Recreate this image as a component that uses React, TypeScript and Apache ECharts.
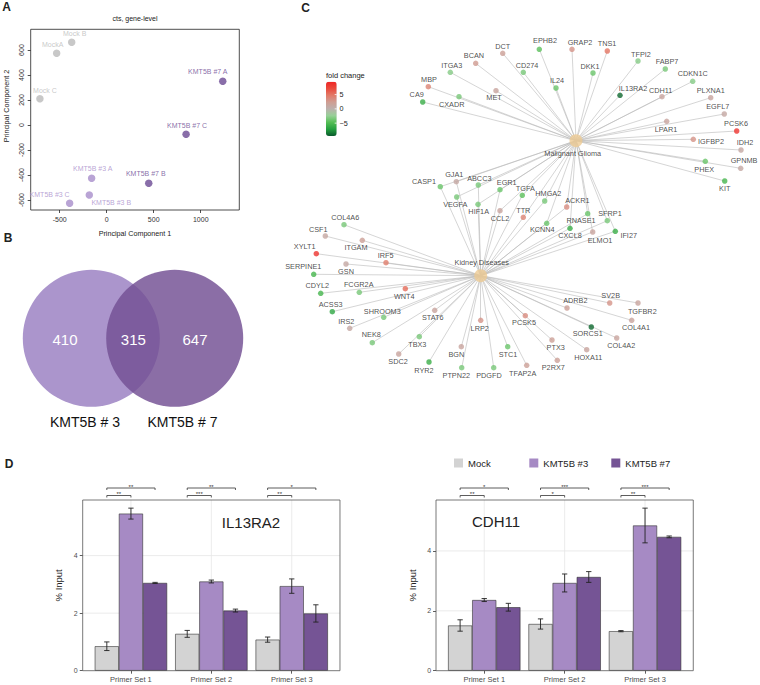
import React, { useEffect, useRef } from "react";
import * as echarts from "echarts";

// ---------- Panel A: PCA ----------
const pcaSamples = ["MockA", "Mock B", "Mock C", "KMT5B #3 A", "KMT5B #3 B", "KMT5B #3 C", "KMT5B #7 A", "KMT5B #7 B", "KMT5B #7 C"];
const pcaGroup = [0, 0, 0, 1, 1, 1, 2, 2, 2];
const pc1 = [-532, -372, -710, -160, -185, -394, 1234, 447, 844];
const pc2 = [574, 662, 210, -426, -560, -626, 350, -466, -74];
const pc1Ticks = [-500, 0, 500, 1000];
const pc2Ticks = [-600, -400, -200, 0, 200, 400, 600];

// ---------- Panel B: Venn ----------
const vennSets = ["KMT5B # 3", "KMT5B # 7"];
const vennCounts = [410, 315, 647]; // only #3, both, only #7

// ---------- Panel C: network ----------
const hubs = ["Malignant Glioma", "Kidney Diseases"];
const gliomaGenes = ["EPHB2", "GRAP2", "TNS1", "DCT", "BCAN", "TFPI2", "FABP7", "ITGA3", "CD274", "DKK1", "CDKN1C", "MBP", "IL24", "MET", "IL13RA2", "CDH11", "PLXNA1", "CA9", "CXADR", "EGFL7", "LPAR1", "PCSK6", "IGFBP2", "IDH2", "GPNMB", "PHEX", "KIT"];
const gliomaFC = [-4.5, 3, 5, 2, 2.5, -3, -3.5, -3, -3.5, -4, -3, 4, -4, 1.5, -9, 1.5, 1.5, -6, -3.5, 1, 1.5, 8.5, 3, 1, 1, -4, -5.5];
const sharedGenes = ["CASP1", "GJA1", "ABCC3", "EGR1", "TGFA", "HMGA2", "VEGFA", "HIF1A", "ACKR1", "CCL2", "TTR", "RNASE1", "SFRP1", "KCNN4", "CXCL8", "ELMO1", "IFI27"];
const sharedFC = [-4, 1, -3.5, -4, -4.5, -3.5, -3.5, -3.5, 3.5, 1.5, 4, -4, -3.5, -4, -6, 1.5, -6];
const kidneyGenes = ["COL4A6", "CSF1", "ITGAM", "XYLT1", "IRF5", "SERPINE1", "GSN", "CDYL2", "FCGR2A", "WNT4", "ACSS3", "SHROOM3", "IRS2", "STAT6", "NEK8", "TBX3", "LRP2", "SDC2", "BGN", "RYR2", "PTPN22", "PDGFD", "STC1", "TFAP2A", "PCSK5", "PTX3", "P2RX7", "ADRB2", "SV2B", "TGFBR2", "SORCS1", "COL4A1", "COL4A2", "HOXA11"];
const kidneyFC = [-3.5, 1, 2, 8.5, 4.5, -5.5, 1, -5.5, -3.5, 5.5, -6.5, -3.5, 1, 1.5, -3.5, -3.5, 3, 1.5, 1.5, -6, -3.5, -3.5, -4, 2, 3.5, 2, 2, 2, 3, 1.5, -9, 1.5, 1.5, 1.5];
const foldChangeTicks = [5, 0, -5];

// ---------- Panel D: ChIP bars ----------
const primerSets = ["Primer Set 1", "Primer Set 2", "Primer Set 3"];
const conditions = ["Mock", "KMT5B #3", "KMT5B #7"];
const il13ra2Mock = [0.85, 1.28, 1.08];
const il13ra2Kmt3 = [5.46, 3.1, 2.94];
const il13ra2Kmt7 = [3.05, 2.09, 1.99];
const il13ra2MockErr = [0.15, 0.12, 0.09];
const il13ra2Kmt3Err = [0.19, 0.05, 0.25];
const il13ra2Kmt7Err = [0.02, 0.05, 0.3];
const il13ra2SigVs3 = ["**", "***", "**"];
const il13ra2SigVs7 = ["**", "**", "*"];
const cdh11Mock = [1.51, 1.56, 1.32];
const cdh11Kmt3 = [2.36, 2.93, 4.85];
const cdh11Kmt7 = [2.12, 3.13, 4.47];
const cdh11MockErr = [0.19, 0.17, 0.02];
const cdh11Kmt3Err = [0.05, 0.3, 0.58];
const cdh11Kmt7Err = [0.13, 0.18, 0.03];
const cdh11SigVs3 = ["**", "*", "**"];
const cdh11SigVs7 = ["*", "***", "***"];
const percentTicks = [0, 2, 4];

// ---------- layout (positions of the hand-drawn network, in page pixels) ----------
// [nodeX, nodeY, labelX, labelY]
const networkLayout: Record<string, number[]> = {
  "Malignant Glioma": [576, 140.7, 572.7, 153.3],
  "Kidney Diseases": [480.7, 275.7, 481.7, 262.3],
  EPHB2: [539.3, 49.3, 545, 40], GRAP2: [572, 49.3, 580, 42], TNS1: [607.3, 51, 607, 43],
  DCT: [502.7, 53.3, 502.7, 46], BCAN: [475.7, 63.3, 474, 55.7], TFPI2: [638, 61, 641, 54],
  FABP7: [665.3, 69, 667, 61.7], ITGA3: [450.3, 72.3, 451.7, 65], CD274: [523.3, 72.3, 527, 65.7],
  DKK1: [593, 73, 590, 66], CDKN1C: [692.7, 81.3, 692.7, 73.3], MBP: [428.3, 86.7, 429, 79],
  IL24: [556, 88, 557, 80.3], MET: [496, 90.7, 494, 97.7], IL13RA2: [620, 95.3, 633, 88],
  CDH11: [662, 96.7, 660.7, 90], PLXNA1: [710.7, 97.7, 710.7, 90], CA9: [422.7, 102, 416.7, 94.7],
  CXADR: [459, 96.7, 451.7, 104.3], EGFL7: [724.3, 114, 717.7, 106.7], LPAR1: [666.7, 121.3, 666, 129],
  PCSK6: [736.7, 131, 736, 123], IGFBP2: [693.3, 139.3, 711, 141.3], IDH2: [741, 150, 745, 142.3],
  GPNMB: [740.7, 168.3, 744, 160.7], PHEX: [705.3, 161.3, 704.3, 169], KIT: [724.7, 181, 724.7, 188.7],
  CASP1: [440.3, 186.7, 424, 181.3], GJA1: [456.3, 181.7, 454.3, 174], ABCC3: [478.3, 185, 479.3, 178],
  EGR1: [500, 189.7, 506.7, 182.3], TGFA: [522.3, 195.3, 525.3, 188.7], HMGA2: [544.7, 201, 548.3, 193],
  VEGFA: [456.7, 197, 455.3, 204.7], HIF1A: [478, 204.3, 478.7, 211], ACKR1: [566.7, 207, 577.3, 200.3],
  CCL2: [500, 210.7, 500, 218.7], TTR: [523.3, 217.3, 523.3, 210], RNASE1: [587.7, 213.7, 581, 220],
  SFRP1: [607.3, 220.7, 610, 213], KCNN4: [546.7, 223.3, 542.3, 229.7], CXCL8: [570, 228.3, 570, 235.3],
  ELMO1: [592.7, 232, 600, 240], IFI27: [615.3, 231.3, 628.7, 235],
  COL4A6: [344, 224.7, 345.3, 217.3], CSF1: [325.3, 236, 318.3, 229.3], ITGAM: [362.3, 240.3, 356, 247.7],
  XYLT1: [316.3, 253.7, 304.7, 246.3], IRF5: [386, 262.7, 385.7, 255.7], SERPINE1: [313.7, 274.3, 303.3, 266],
  GSN: [346, 264, 346, 271.7], CDYL2: [320.7, 293.3, 317.3, 285], FCGR2A: [359.3, 292.3, 358.7, 284.7],
  WNT4: [405.3, 288.7, 404.3, 296.3], ACSS3: [332.3, 311.7, 330.7, 304], SHROOM3: [383.7, 317.3, 382.3, 311],
  IRS2: [349.7, 328.3, 346.3, 321], STAT6: [434.7, 310.3, 432.7, 317.3], NEK8: [372.3, 342.7, 371.3, 334],
  TBX3: [419.3, 336.7, 417.3, 344], LRP2: [480.7, 320.3, 479.7, 328.7], SDC2: [398.7, 354, 398, 361.7],
  BGN: [461.3, 346.7, 456.3, 354], RYR2: [429, 362, 424, 370], PTPN22: [461.7, 367.7, 456.3, 375.3],
  PDGFD: [493.7, 367.7, 489, 375.3], STC1: [507.7, 346.7, 508, 354], TFAP2A: [526.7, 365.3, 522.7, 373.3],
  PCSK5: [525.3, 315.7, 524, 322.3], PTX3: [552, 340, 555.7, 347.3], P2RX7: [557.3, 360.3, 553.3, 367.7],
  ADRB2: [567, 308, 575.3, 300.7], SV2B: [609.7, 303, 610.7, 295.7], TGFBR2: [638, 303, 642.3, 311],
  SORCS1: [591.3, 327, 587.7, 333.7], COL4A1: [631.7, 320.3, 636, 327.3], COL4A2: [616.7, 338, 621.3, 345.3],
  HOXA11: [586.7, 349.7, 588.3, 357.3],
};
// label offsets of PCA points [dx, dy] in px
const pcaLabelOffset = [[-4, -9], [3, -9], [5, -8.5], [1, -10], [22, 7], [-20, -9], [-15, -10], [-3, -9.5], [1, -9]];

const FONT = "'Liberation Sans', Arial, Helvetica, sans-serif";
const pcaColors = ["#bababa", "#a88dcb", "#6b4a93"];
const barColors = ["#d3d3d3", "#a68ac4", "#755495"];
const BAR_FRAC = 0.3;
const EXPAND = 0.1;
const FC_MIN = -9.5;
const FC_MAX = 9.5;
const CB = { left: 326, top: 81.7, width: 10.7, height: 54.3 };

function gText(x: number, y: number, text: string, size: number, o: any = {}) {
  return {
    type: "text", x, y, silent: true, z: 100, rotation: o.rotation || 0,
    style: {
      text, fontSize: size, fontFamily: FONT, fill: o.fill || "#222",
      align: o.align || "center", verticalAlign: o.va || "middle", fontWeight: o.weight || "normal",
    },
  };
}

function barPanel(axisIdx: number, means: number[][], errs: number[][], sig3: string[], sig7: string[]) {
  const series: any[] = [];
  const gridData: any[] = [];
  primerSets.forEach((_, i) => gridData.push([i, 0, 0]));
  percentTicks.filter((v) => v > 0).forEach((v) => gridData.push([0, v, 1]));
  series.push({
    type: "custom", xAxisIndex: axisIdx, yAxisIndex: axisIdx, silent: true, z: 0,
    data: gridData,
    renderItem: (params: any, api: any) => {
      const cs = params.coordSys;
      if (api.value(2) === 0) {
        const x = api.coord([api.value(0), 0])[0];
        return { type: "line", shape: { x1: x, y1: cs.y, x2: x, y2: cs.y + cs.height }, style: { stroke: "#e6e6e6", lineWidth: 0.8 } };
      }
      const y = api.coord([0, api.value(1)])[1];
      const ex = (cs.width / primerSets.length) * EXPAND;
      return { type: "line", shape: { x1: cs.x - ex, y1: y, x2: cs.x + cs.width + ex, y2: y }, style: { stroke: "#e6e6e6", lineWidth: 0.8 } };
    },
  });
  conditions.forEach((c, ci) => {
    series.push({
      type: "bar", name: c, xAxisIndex: axisIdx, yAxisIndex: axisIdx, data: means[ci],
      barWidth: "30%", barGap: "0%", silent: true, z: 2,
      itemStyle: { color: barColors[ci], borderColor: "#333", borderWidth: 0.6 },
    });
  });
  const errData: any[] = [];
  primerSets.forEach((_, pi) => conditions.forEach((_, ci) => errData.push([pi, means[ci][pi], errs[ci][pi], ci])));
  series.push({
    type: "custom", xAxisIndex: axisIdx, yAxisIndex: axisIdx, silent: true, z: 3,
    data: errData,
    renderItem: (params: any, api: any) => {
      const cat = api.value(0), m = api.value(1), e = api.value(2), ci = api.value(3);
      const band = api.size([1, 0])[0];
      const bw = band * BAR_FRAC;
      const cx = api.coord([cat, 0])[0] + (ci - 1) * bw;
      const yT = api.coord([cat, m + e])[1];
      const yB = api.coord([cat, m - e])[1];
      const h = bw * 0.11;
      const st = { stroke: "#222", lineWidth: 0.9 };
      return {
        type: "group", children: [
          { type: "line", shape: { x1: cx, y1: yT, x2: cx, y2: yB }, style: st },
          { type: "line", shape: { x1: cx - h, y1: yT, x2: cx + h, y2: yT }, style: st },
          { type: "line", shape: { x1: cx - h, y1: yB, x2: cx + h, y2: yB }, style: st },
        ],
      };
    },
  });
  const sigData: any[] = [];
  const sigLabels: string[] = [];
  primerSets.forEach((_, pi) => {
    sigData.push([pi, 0]); sigLabels.push(sig3[pi]);
    sigData.push([pi, 1]); sigLabels.push(sig7[pi]);
  });
  series.push({
    type: "custom", xAxisIndex: axisIdx, yAxisIndex: axisIdx, silent: true, z: 3, clip: false,
    data: sigData,
    renderItem: (params: any, api: any) => {
      const cs = params.coordSys;
      const cat = api.value(0), level = api.value(1);
      const band = api.size([1, 0])[0];
      const bw = band * BAR_FRAC;
      const cx = api.coord([cat, 0])[0];
      const x1 = cx - bw;
      const x2 = level === 0 ? cx : cx + bw;
      const y = cs.y - (level === 0 ? 4.5 : 12);
      return {
        type: "group", children: [
          { type: "polyline", shape: { points: [[x1, y + 2], [x1, y], [x2, y], [x2, y + 2]] }, style: { stroke: "#333", fill: null, lineWidth: 0.8 } },
          { type: "text", style: { text: sigLabels[params.dataIndex], x: (x1 + x2) / 2, y: y + 1.5, align: "center", verticalAlign: "bottom", fontSize: 6, fontFamily: FONT, fill: "#333" } },
        ],
      };
    },
  });
  return series;
}

function buildOption() {
  const dLeft = { left: 90.74, top: 500, width: 241.2, height: 170.7 };
  const dRight = { left: 444.04, top: 500, width: 241.2, height: 170.7 };
  const yMaxL = Math.max(...[il13ra2Mock, il13ra2Kmt3, il13ra2Kmt7].flatMap((a, i) => a.map((v, j) => v + [il13ra2MockErr, il13ra2Kmt3Err, il13ra2Kmt7Err][i][j]))) * 1.05;
  const yMaxR = Math.max(...[cdh11Mock, cdh11Kmt3, cdh11Kmt7].flatMap((a, i) => a.map((v, j) => v + [cdh11MockErr, cdh11Kmt3Err, cdh11Kmt7Err][i][j]))) * 1.05;

  const catAxis = (gi: number) => ({
    gridIndex: gi, type: "category", data: primerSets,
    axisLine: { show: false, onZero: false },
    axisTick: { show: true, alignWithLabel: true, length: 3, lineStyle: { color: "#333", width: 0.8 } },
    axisLabel: { fontSize: 7.5, color: "#4d4d4d", margin: 5, fontFamily: FONT },
    splitLine: { show: false },
  });
  const pctAxis = (gi: number, max: number) => ({
    gridIndex: gi, type: "value", min: 0, max, offset: 8,
    name: "% Input", nameLocation: "middle", nameGap: 19,
    nameTextStyle: { fontSize: 9.5, color: "#222", fontFamily: FONT },
    axisLine: { show: false, onZero: false },
    axisTick: { show: true, length: 3, customValues: percentTicks, lineStyle: { color: "#333", width: 0.8 } },
    axisLabel: { fontSize: 7, color: "#4d4d4d", margin: 5, customValues: percentTicks, fontFamily: FONT },
    splitLine: { show: false },
  });

  const noBorder = { textBorderWidth: 0, textBorderColor: "transparent", textShadowBlur: 0 };
  const series: any[] = [];
  // Panel A
  series.push({
    type: "scatter", xAxisIndex: 0, yAxisIndex: 0, symbolSize: 7.5, silent: true,
    data: pcaSamples.map((s, i) => ({
      name: s, value: [pc1[i], pc2[i]],
      itemStyle: { color: pcaColors[pcaGroup[i]] },
      label: { show: true, position: "inside", formatter: s, offset: pcaLabelOffset[i], color: pcaColors[pcaGroup[i]], fontSize: 7, fontFamily: FONT, ...noBorder },
    })),
  });
  // Panel D
  series.push(...barPanel(1, [il13ra2Mock, il13ra2Kmt3, il13ra2Kmt7], [il13ra2MockErr, il13ra2Kmt3Err, il13ra2Kmt7Err], il13ra2SigVs3, il13ra2SigVs7));
  series.push(...barPanel(2, [cdh11Mock, cdh11Kmt3, cdh11Kmt7], [cdh11MockErr, cdh11Kmt3Err, cdh11Kmt7Err], cdh11SigVs3, cdh11SigVs7));

  // Panel C network
  const edges: any[] = [];
  const hubXY = (h: string) => networkLayout[h].slice(0, 2);
  const addEdges = (genes: string[], hubList: string[]) => genes.forEach((g) => hubList.forEach((h) => edges.push({ coords: [hubXY(h), networkLayout[g].slice(0, 2)] })));
  addEdges(gliomaGenes, [hubs[0]]);
  addEdges(sharedGenes, [hubs[0], hubs[1]]);
  addEdges(kidneyGenes, [hubs[1]]);
  series.push({
    type: "lines", coordinateSystem: "cartesian2d", xAxisIndex: 3, yAxisIndex: 3, silent: true, z: 1,
    lineStyle: { color: "#b8b8b8", width: 0.6, opacity: 1 },
    data: edges,
  });
  const allGenes = [...gliomaGenes, ...sharedGenes, ...kidneyGenes];
  const allFC = [...gliomaFC, ...sharedFC, ...kidneyFC];
  const nodeIdx = series.length;
  series.push({
    type: "scatter", xAxisIndex: 3, yAxisIndex: 3, symbolSize: 5.5, silent: true, z: 2,
    data: allGenes.map((g, i) => {
      const L = networkLayout[g];
      return {
        name: g, value: [L[0], L[1], allFC[i]],
        label: { show: true, position: "inside", formatter: g, offset: [L[2] - L[0], L[3] - L[1]], color: "#1a1a1a", fontSize: 7.3, fontFamily: FONT, ...noBorder },
      };
    }),
  });
  series.push({
    type: "scatter", xAxisIndex: 3, yAxisIndex: 3, symbolSize: 13, silent: true, z: 2,
    itemStyle: { color: "#eecb93" },
    data: hubs.map((h) => {
      const L = networkLayout[h];
      return {
        name: h, value: [L[0], L[1]],
        label: { show: true, position: "inside", formatter: h, offset: [L[2] - L[0], L[3] - L[1]], color: "#1a1a1a", fontSize: 7.3, fontFamily: FONT, ...noBorder },
      };
    }),
  });

  const graphic: any[] = [];
  // panel letters
  graphic.push(gText(6.5, 6.5, "A", 12, { weight: "bold" }));
  graphic.push(gText(8, 238, "B", 12, { weight: "bold" }));
  graphic.push(gText(305.5, 7.5, "C", 12, { weight: "bold" }));
  graphic.push(gText(9, 463.5, "D", 12, { weight: "bold" }));
  // A title + y axis title
  graphic.push(gText(135, 18, "cts, gene-level", 7));
  graphic.push(gText(6, 106, "Principal Component 2", 7.2, { rotation: Math.PI / 2 }));
  // Venn
  graphic.push({ type: "circle", silent: true, z: 1, shape: { cx: 91.3, cy: 338.3, r: 68.5 }, style: { fill: "#ab95cc" } });
  graphic.push({ type: "circle", silent: true, z: 2, shape: { cx: 174.7, cy: 338.3, r: 68.5 }, style: { fill: "rgba(116,81,148,0.83)" } });
  graphic.push(gText(65, 339, String(vennCounts[0]), 15, { fill: "#fff" }));
  graphic.push(gText(133.3, 339, String(vennCounts[1]), 15, { fill: "#fff" }));
  graphic.push(gText(195, 339, String(vennCounts[2]), 15, { fill: "#fff" }));
  graphic.push(gText(85, 422.3, vennSets[0], 14, { fill: "#111" }));
  graphic.push(gText(182.5, 422.3, vennSets[1], 14, { fill: "#111" }));
  // colorbar title + ticks
  graphic.push(gText(326, 75, "fold change", 7.5, { align: "left" }));
  foldChangeTicks.forEach((v) => {
    const y = CB.top + ((FC_MAX - v) / (FC_MAX - FC_MIN)) * CB.height;
    graphic.push(gText(339.5, y, String(v).replace("-", "\u2212"), 7.2, { align: "left" }));
    graphic.push({ type: "line", silent: true, z: 100, shape: { x1: CB.left + CB.width - 2, y1: y, x2: CB.left + CB.width, y2: y }, style: { stroke: "#fff", lineWidth: 0.8 } });
  });
  // D panel borders + titles
  [dLeft, dRight].forEach((g) => {
    const ex = (g.width / primerSets.length) * EXPAND;
    graphic.push({ type: "rect", silent: true, z: 50, shape: { x: g.left - ex, y: g.top, width: g.width + 2 * ex, height: g.height }, style: { fill: null, stroke: "#555", lineWidth: 0.8 } });
  });
  graphic.push(gText(251, 522.7, "IL13RA2", 15));
  graphic.push(gText(496, 521.7, "CDH11", 15));

  const legendX = [454, 529.3, 611.3];
  const legend = conditions.map((c, i) => ({
    data: [c], left: legendX[i], top: 458, padding: 0, itemWidth: 9, itemHeight: 9, itemGap: 0,
    icon: "rect", selectedMode: false, itemStyle: { borderWidth: 0 },
    textStyle: { fontSize: 9.5, color: "#222", fontFamily: FONT },
  }));

  const plain = (v: number) => String(v);

  return {
    animation: false,
    textStyle: { fontFamily: FONT },
    grid: [
      { left: 30.7, top: 29.3, width: 208.6, height: 180.7, show: true, borderColor: "#222", borderWidth: 0.8, backgroundColor: "transparent" },
      dLeft,
      dRight,
      { left: 0, top: 0, width: 760, height: 685 },
    ],
    xAxis: [
      {
        gridIndex: 0, type: "value", min: -808, max: 1410,
        name: "Principal Component 1", nameLocation: "middle", nameGap: 20,
        nameTextStyle: { fontSize: 7.2, color: "#222", fontFamily: FONT },
        axisLine: { show: false, onZero: false },
        axisTick: { show: true, length: 3, customValues: pc1Ticks, lineStyle: { color: "#222", width: 0.8 } },
        axisLabel: { fontSize: 7, color: "#333", margin: 6, customValues: pc1Ticks, formatter: plain, fontFamily: FONT },
        splitLine: { show: false },
      },
      catAxis(1),
      catAxis(2),
      { gridIndex: 3, type: "value", min: 0, max: 760, show: false },
    ],
    yAxis: [
      {
        gridIndex: 0, type: "value", min: -680, max: 766,
        axisLine: { show: false, onZero: false },
        axisTick: { show: true, length: 3, customValues: pc2Ticks, lineStyle: { color: "#222", width: 0.8 } },
        axisLabel: { fontSize: 7, color: "#333", margin: 6, rotate: 90, customValues: pc2Ticks, formatter: plain, fontFamily: FONT },
        splitLine: { show: false },
      },
      pctAxis(1, yMaxL),
      pctAxis(2, yMaxR),
      { gridIndex: 3, type: "value", min: 0, max: 685, inverse: true, show: false },
    ],
    visualMap: {
      type: "continuous", min: FC_MIN, max: FC_MAX, dimension: 2, seriesIndex: nodeIdx,
      left: CB.left, top: CB.top, itemWidth: CB.width, itemHeight: CB.height, padding: 0,
      calculable: false, realtime: false, hoverLink: false,
      inRange: { color: ["#0a5a2c", "#24a03f", "#55be55", "#98d098", "#bcb0ad", "#cf9d93", "#e27a68", "#ea4a3c", "#ef2525"] },
    },
    legend,
    graphic,
    series,
  };
}

export default function App() {
  const ref = useRef<HTMLDivElement>(null);
  useEffect(() => {
    const chart = echarts.init(ref.current as HTMLDivElement, null, { renderer: "svg" });
    chart.setOption(buildOption() as any);
    return () => chart.dispose();
  }, []);
  return <div ref={ref} style={{ position: "absolute", left: 0, top: 0, width: 760, height: 685 }} />;
}
